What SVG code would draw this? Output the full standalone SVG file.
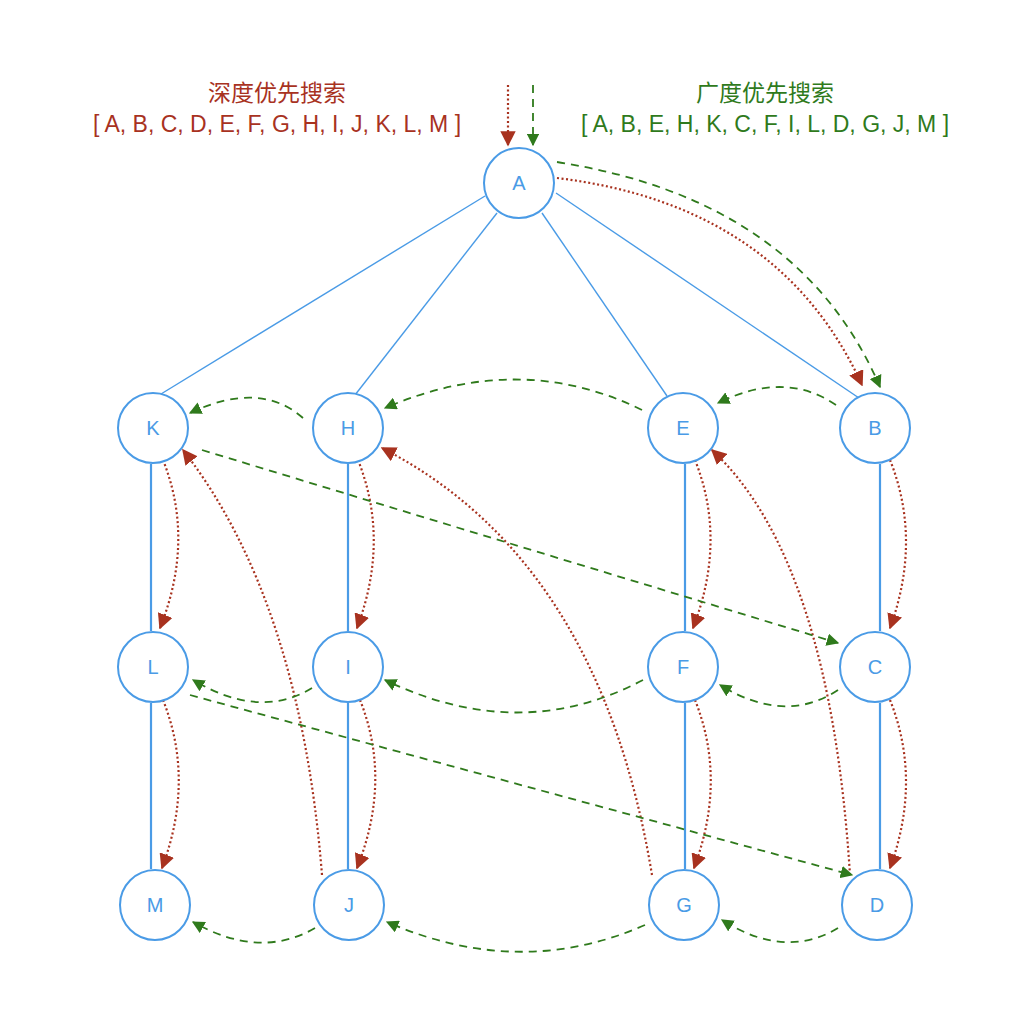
<svg xmlns="http://www.w3.org/2000/svg" width="1034" height="1030" viewBox="0 0 1034 1030">
<defs>
<marker id="mr" viewBox="0 0 10 10" refX="9" refY="5" markerWidth="7" markerHeight="7" orient="auto"><path d="M0,0 L10,5 L0,10 z" fill="#a8321f"/></marker>
<marker id="mg" viewBox="0 0 10 10" refX="9" refY="5" markerWidth="7" markerHeight="7" orient="auto"><path d="M0,0 L10,5 L0,10 z" fill="#2f7a1c"/></marker>
</defs>
<style>
.n circle{fill:#fff;stroke:#4a9be6;stroke-width:2}
.n text{font-family:"Liberation Sans",Arial,sans-serif;font-size:20px;fill:#4a9be6;text-anchor:middle;dominant-baseline:central}
.e{stroke:#4a9be6;fill:none;stroke-width:1.4}
.v{stroke:#4a9be6;fill:none;stroke-width:2.2}
.r{stroke:#a8321f;fill:none;stroke-width:2.2;stroke-dasharray:2 2.5;marker-end:url(#mr)}
.g{stroke:#2f7a1c;fill:none;stroke-width:1.8;stroke-dasharray:8 6;marker-end:url(#mg)}
.t{font-family:"Liberation Sans","Noto Sans CJK SC",sans-serif;font-size:23px;text-anchor:middle}
.h{font-family:"Noto Sans CJK SC","Liberation Sans",sans-serif;font-size:23px;text-anchor:middle}
</style>
<rect width="1034" height="1030" fill="#fff"/>
<text class="h" x="277" y="101" fill="#a8321f">深度优先搜索</text>
<text class="t" x="277" y="132" fill="#a8321f">[ A, B, C, D, E, F, G, H, I, J, K, L, M ]</text>
<text class="h" x="765" y="101" fill="#2f7a1c">广度优先搜索</text>
<text class="t" x="765" y="132" fill="#2f7a1c">[ A, B, E, H, K, C, F, I, L, D, G, J, M ]</text>
<g id="edges">
<line class="e" x1="485" y1="196" x2="161" y2="394"/>
<line class="e" x1="497" y1="213" x2="355" y2="395"/>
<line class="e" x1="542" y1="213" x2="667" y2="396"/>
<line class="e" x1="556" y1="193" x2="859" y2="398"/>
<line class="v" x1="151" y1="464" x2="151" y2="631"/>
<line class="v" x1="348" y1="464" x2="348" y2="631"/>
<line class="v" x1="685" y1="464" x2="685" y2="631"/>
<line class="v" x1="880" y1="464" x2="880" y2="631"/>
<line class="v" x1="151" y1="703" x2="151" y2="869"/>
<line class="v" x1="348" y1="703" x2="348" y2="869"/>
<line class="v" x1="685" y1="703" x2="685" y2="869"/>
<line class="v" x1="880" y1="703" x2="880" y2="869"/>
</g>
<g id="connectors">
<line class="r" x1="508" y1="85" x2="508" y2="145"/>
<line class="g" x1="533" y1="85" x2="533" y2="145"/>
<path class="r" d="M557,178 Q780,205 862,385"/>
<path class="g" d="M557,162 Q800,200 880,387"/>
<path class="r" d="M163,460 Q195,540 160,628"/>
<path class="r" d="M163,700 Q195,780 162,868"/>
<path class="r" d="M358,460 Q390,540 357,628"/>
<path class="r" d="M360,700 Q392,780 357,868"/>
<path class="r" d="M695,460 Q727,540 693,628"/>
<path class="r" d="M695,700 Q727,780 694,868"/>
<path class="r" d="M890,460 Q922,540 890,628"/>
<path class="r" d="M890,700 Q922,780 890,868"/>
<path class="r" d="M850,875 Q830,560 712,450"/>
<path class="r" d="M652,875 Q600,560 382,448"/>
<path class="r" d="M322,875 Q300,600 183,450"/>
<path class="g" d="M836,405 Q785,370 718,403"/>
<path class="g" d="M642,410 Q520,350 385,408"/>
<path class="g" d="M303,418 Q260,380 190,413"/>
<line class="g" x1="202" y1="450" x2="838" y2="643"/>
<path class="g" d="M838,690 Q785,725 720,685"/>
<path class="g" d="M643,680 Q520,745 385,680"/>
<path class="g" d="M312,688 Q260,720 193,680"/>
<line class="g" x1="190" y1="695" x2="852" y2="875"/>
<path class="g" d="M838,928 Q785,960 722,920"/>
<path class="g" d="M645,925 Q520,980 387,922"/>
<path class="g" d="M315,928 Q260,960 193,922"/>
</g>
<g id="A" class="n"><circle cx="519" cy="183" r="35"/><text x="519" y="183">A</text></g>
<g id="K" class="n"><circle cx="153" cy="428" r="35"/><text x="153" y="428">K</text></g>
<g id="H" class="n"><circle cx="348" cy="428" r="35"/><text x="348" y="428">H</text></g>
<g id="E" class="n"><circle cx="683" cy="428" r="35"/><text x="683" y="428">E</text></g>
<g id="B" class="n"><circle cx="875" cy="428" r="35"/><text x="875" y="428">B</text></g>
<g id="L" class="n"><circle cx="153" cy="667" r="35"/><text x="153" y="667">L</text></g>
<g id="I" class="n"><circle cx="348" cy="667" r="35"/><text x="348" y="667">I</text></g>
<g id="F" class="n"><circle cx="683" cy="667" r="35"/><text x="683" y="667">F</text></g>
<g id="C" class="n"><circle cx="875" cy="667" r="35"/><text x="875" y="667">C</text></g>
<g id="M" class="n"><circle cx="155" cy="905" r="35"/><text x="155" y="905">M</text></g>
<g id="J" class="n"><circle cx="349" cy="905" r="35"/><text x="349" y="905">J</text></g>
<g id="G" class="n"><circle cx="684" cy="905" r="35"/><text x="684" y="905">G</text></g>
<g id="D" class="n"><circle cx="877" cy="905" r="35"/><text x="877" y="905">D</text></g>
</svg>
